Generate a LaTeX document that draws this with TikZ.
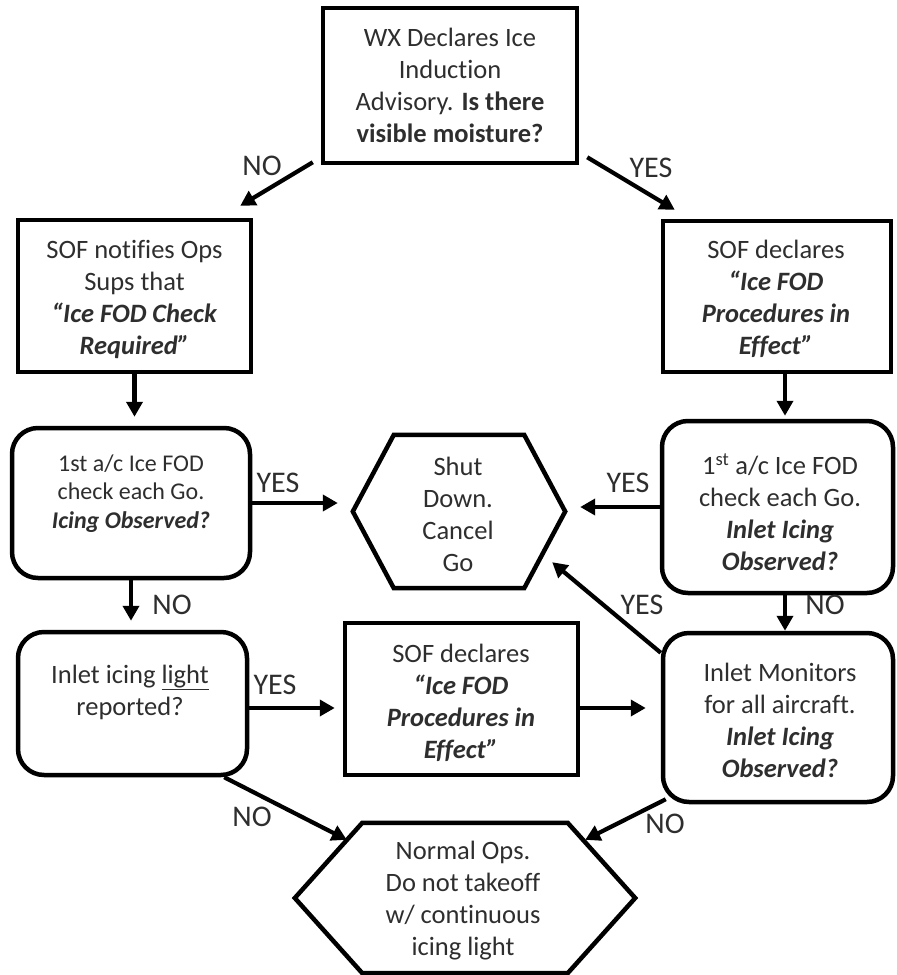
\documentclass[tikz,border=0pt]{standalone}
\usepackage{fontspec}
\setmainfont{Carlito}[Ligatures={NoCommon,NoRare,NoDiscretionary}]
\usetikzlibrary{arrows.meta,calc}
\newcommand\bfit[1]{\textbf{\textit{#1}}}
\begin{document}
\begin{tikzpicture}[x=1pt,y=-1pt,
  sbox/.style={draw=black, line width=4.5pt, inner sep=0pt},
  rbox/.style={sbox, rounded corners=26pt},
  hexnode/.style={inner sep=0pt},
  hexline/.style={draw=black, line width=4.5pt, line join=miter},
  txt/.style={align=center, text=black!82, inner sep=0pt, font=\fontsize{26.5}{32}\selectfont},
  smalltxt/.style={txt, font=\fontsize{24}{28.5}\selectfont},
  lab/.style={text=black!82, inner sep=0pt, font=\fontsize{30}{36}\selectfont},
  arr/.style={draw=black, line width=4.2pt, -{Triangle[length=15pt,width=16pt]}}
]
\useasboundingbox (0,0) rectangle (897,975);

% shapes
\node[sbox, minimum width=254pt, minimum height=155pt] (top) at (450,85.5) {};
\node[sbox, minimum width=233pt, minimum height=152pt] (lbox) at (134.5,296) {};
\node[sbox, minimum width=228pt, minimum height=151pt] (rbox) at (777,296.5) {};
\node[rbox, minimum width=238pt, minimum height=150pt] (lr1) at (131,503) {};
\node[hexnode, minimum width=212pt, minimum height=153pt] (shut) at (459,511.5) {};
\node[rbox, minimum width=231pt, minimum height=172pt] (rr1) at (777.5,507) {};
\node[rbox, minimum width=229pt, minimum height=143pt] (lr2) at (132.5,703.5) {};
\node[sbox, minimum width=233pt, minimum height=152pt] (mbox) at (461.5,699) {};
\node[rbox, minimum width=230pt, minimum height=169pt] (rr2) at (778,717.5) {};
\node[hexnode, minimum width=340pt, minimum height=150pt] (norm) at (465,898) {};

\draw[hexline] (shut.west) -- ([xshift=41pt]shut.north west) -- ([xshift=-41pt]shut.north east)
  -- (shut.east) -- ([xshift=-41pt]shut.south east) -- ([xshift=41pt]shut.south west) -- cycle;
\draw[hexline] (norm.west) -- ([xshift=67.5pt]norm.north west) -- ([xshift=-67.5pt]norm.north east)
  -- (norm.east) -- ([xshift=-67.5pt]norm.south east) -- ([xshift=67.5pt]norm.south west) -- cycle;

% texts
\node[txt] (ttop) at (450,85) {WX Declares Ice\\Induction\\Advisory. \textbf{Is there}\\\textbf{visible moisture?}};
\node[txt] (tlbox) at (134.5,299.5) {SOF notifies Ops\\Sups that\\\bfit{“Ice FOD Check}\\\bfit{Required”}};
\node[txt] (trbox) at (776,298.5) {SOF declares\\\bfit{“Ice FOD}\\\bfit{Procedures in}\\\bfit{Effect”}};
\node[smalltxt] (tlr1) at (131,493.5) {1st a/c Ice FOD\\check each Go.\\\bfit{Icing Observed?}};
\node[txt] (tshut) at (458,514) {Shut\\Down.\\Cancel\\Go};
\node[txt] (trr1) at (780,512.5) {1\textsuperscript{st} a/c Ice FOD\\check each Go.\\\bfit{Inlet Icing}\\\bfit{Observed?}};
\node[txt] (tlr2) at (130,692.5) {Inlet icing \underline{light}\\reported?};
\node[txt] (tmbox) at (461,702.5) {SOF declares\\\bfit{“Ice FOD}\\\bfit{Procedures in}\\\bfit{Effect”}};
\node[txt] (trr2) at (780,720) {Inlet Monitors\\for all aircraft.\\\bfit{Inlet Icing}\\\bfit{Observed?}};
\node[txt] (tnorm) at (463,901) {Normal Ops.\\Do not takeoff\\w/ continuous\\icing light};

% labels
\node[lab] (l1) at (262,166) {NO};
\node[lab] (l2) at (651,168) {YES};
\node[lab] (l3) at (278,483) {YES};
\node[lab] (l4) at (628,483) {YES};
\node[lab] (l5) at (172,605) {NO};
\node[lab] (l6) at (642,605) {YES};
\node[lab] (l7) at (825,605) {NO};
\node[lab] (l8) at (275,685) {YES};
\node[lab] (l9) at (252,817) {NO};
\node[lab] (l10) at (665,824) {NO};

% helper coordinates
\coordinate (rbS) at ([xshift=8pt]rbox.south);
\coordinate (rr1S) at ([xshift=7.5pt]rr1.south);
\coordinate (lr2E) at ([yshift=-4.5pt]lr2.east);
\coordinate (mbE) at ([yshift=-9pt]mbox.east);
\coordinate (shutin) at ([shift={(-13,-26)}]shut.south east);

% connectors
\draw[arr] ([shift={(-8,-3)}]top.south west) -- ([shift={(-13,-12)}]lbox.north east);
\draw[arr] ([shift={(8,-8)}]top.south east) -- ([shift={(14,-9)}]rbox.north west);
\draw[arr, shorten >=9pt] (lbox.south) -- (lbox.south |- lr1.north);
\draw[arr, shorten >=3pt] (rbS) -- (rbS |- rr1.north);
\draw[arr, shorten >=15pt] (lr1.east) -- (lr1.east -| shut.west);
\draw[arr, shorten >=15pt] (rr1.west) -- (rr1.west -| shut.east);
\draw[arr, shorten >=9pt] (lr1.south) -- (lr1.south |- lr2.north);
\draw[arr] (rr1S) -- (rr1S |- rr2.north);
\draw[arr] ([yshift=-22pt]rr2.north west) -- (shutin);
\draw[arr, shorten >=8pt] (lr2E) -- (lr2E -| mbox.west);
\draw[arr, shorten >=15pt] (mbE) -- (mbE -| rr2.west);
\draw[arr] ([xshift=-25pt]lr2.south east) -- ([shift={(52,17)}]norm.north west);
\draw[arr] ([shift={(5,-5)}]rr2.south west) -- ([shift={(-50,17)}]norm.north east);
\end{tikzpicture}
\end{document}
